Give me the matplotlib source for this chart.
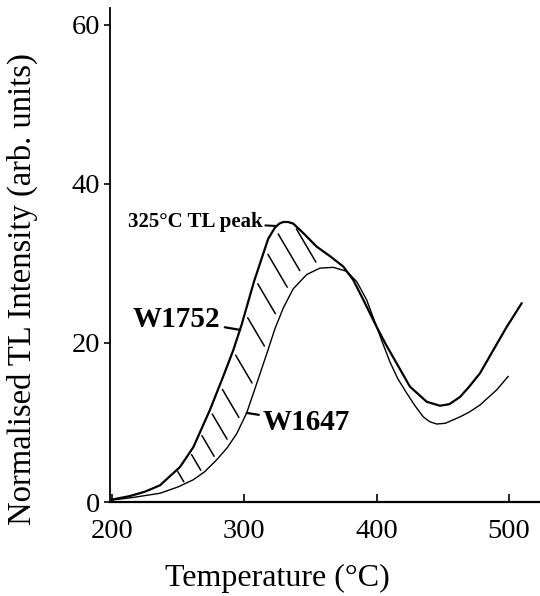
import numpy as np
import matplotlib
matplotlib.use("Agg")
import matplotlib.pyplot as plt

# ---- data ----
temp_w1752 = [200, 213.6, 225, 236.3, 251.4, 261.5, 274.1, 284.1, 291.7, 298, 303, 307.5,
              311.9, 318.1, 323.2, 326.5, 329.5, 333, 337, 344.6, 354.7, 364.8, 374.8, 382.4,
              390, 400.1, 407, 413.9, 425.2, 437.9, 447.9, 455, 463, 470, 478.2, 488.2,
              498.3, 509.7]
tl_w1752 = [0.3, 0.75, 1.3, 2.1, 4.4, 6.9, 11.6, 15.8, 19.1, 22.3, 25.2, 27.8,
            30.0, 33.1, 34.5, 35.0, 35.2, 35.2, 35.0, 33.8, 32.1, 30.9, 29.6, 27.9,
            25.4, 22.0, 19.8, 17.8, 14.5, 12.6, 12.1, 12.3, 13.2, 14.5, 16.2, 19.1,
            22.0, 25.0]

temp_w1647 = [200, 215, 236.3, 250, 261.5, 270, 279.1, 287, 294.3, 301.8, 309.4, 316.9,
              323.2, 329.5, 337, 347.2, 357.2, 367.3, 377.4, 385, 392.5, 400.1, 405,
              410.1, 416, 422.7, 429, 435.3, 440, 445.4, 452, 463, 470, 478.2, 490.8, 499.5]
tl_w1647 = [0.25, 0.55, 1.1, 1.9, 2.8, 3.8, 5.3, 6.8, 8.6, 11.2, 14.9, 18.6,
            21.8, 24.4, 26.8, 28.6, 29.4, 29.5, 29.0, 27.7, 25.4, 22.0, 19.8,
            17.6, 15.5, 13.7, 12.1, 10.7, 10.1, 9.8, 9.9, 10.7, 11.3, 12.2, 14.1, 15.8]

hatch_start_temps = [249, 259, 266.5, 274, 281.5, 291.5, 300.5, 308, 315.5, 323, 337]

x_ticks = [200, 300, 400, 500]
y_ticks = [0, 20, 40, 60]

plt.rcParams['font.family'] = ['Liberation Serif', 'DejaVu Serif']

fig = plt.figure(figsize=(5.4, 5.96), dpi=100)
ax = fig.add_axes([110 / 540, 94 / 596, 430 / 540, 494 / 596])

xlim = (198.5, 523.5)
ylim = (0, 62.1)
ax.set_xlim(*xlim)
ax.set_ylim(*ylim)

ax.plot(temp_w1752, tl_w1752, color='black', lw=1.6, solid_joinstyle='round',
        solid_capstyle='round')
ax.plot(temp_w1647, tl_w1647, color='black', lw=1.0, solid_joinstyle='round',
        solid_capstyle='round')

# ---- hatching between the curves ----
sx = 430 / (xlim[1] - xlim[0])   # px per data unit
sy = 494 / (ylim[1] - ylim[0])
dx, dy = 20 / sx, -34 / sy
for x0 in hatch_start_temps:
    y0 = np.interp(x0, temp_w1752, tl_w1752)
    t = np.linspace(0, 5, 4000)
    px = x0 + t * dx
    py = y0 + t * dy
    diff = py - np.interp(px, temp_w1647, tl_w1647)
    idx = np.argmax(diff <= 0)
    t1 = t[idx]
    ta, tb = 0.12 * t1, 0.86 * t1
    ax.plot([x0 + ta * dx, x0 + tb * dx], [y0 + ta * dy, y0 + tb * dy],
            color='black', lw=1.1, solid_capstyle='round')

# ---- annotations ----
pk_x = 324.5
ax.annotate('325°C TL peak', xy=(pk_x, np.interp(pk_x, temp_w1752, tl_w1752)),
            xytext=(212.1, 35.2), fontsize=15, fontweight='bold', ha='left', va='center',
            arrowprops=dict(arrowstyle='-', lw=1.5, color='black', shrinkA=0, shrinkB=0))
w1_x = 296.7
ax.annotate('W1752', xy=(w1_x, np.interp(w1_x, temp_w1752, tl_w1752)),
            xytext=(215.9, 23.0), fontsize=21, fontweight='bold', ha='left', va='center',
            arrowprops=dict(arrowstyle='-', lw=1.6, color='black', shrinkA=1, shrinkB=0))
w2_x = 301.8
ax.annotate('W1647', xy=(w2_x, np.interp(w2_x, temp_w1647, tl_w1647)),
            xytext=(314.1, 10.0), fontsize=21, fontweight='bold', ha='left', va='center',
            arrowprops=dict(arrowstyle='-', lw=1.6, color='black', shrinkA=1, shrinkB=0))

# ---- axes styling ----
for s in ['top', 'right']:
    ax.spines[s].set_visible(False)
ax.spines['left'].set_linewidth(1.3)
ax.spines['bottom'].set_linewidth(1.6)
ax.set_xticks(x_ticks)
ax.set_yticks(y_ticks)
ax.tick_params(axis='x', direction='in', length=6, width=1.2, pad=12, labelsize=20.5)
ax.tick_params(axis='y', direction='out', length=4, width=1.2, pad=3, labelsize=20.5)

fig.text(277 / 540, 1 - 578 / 596, 'Temperature (°C)', fontsize=23, ha='center', va='center')
fig.text(22 / 540, 1 - 289 / 596, 'Normalised TL Intensity (arb. units)', fontsize=23.5,
         rotation=90, ha='center', va='center')

fig.savefig('out.png', dpi=100)
